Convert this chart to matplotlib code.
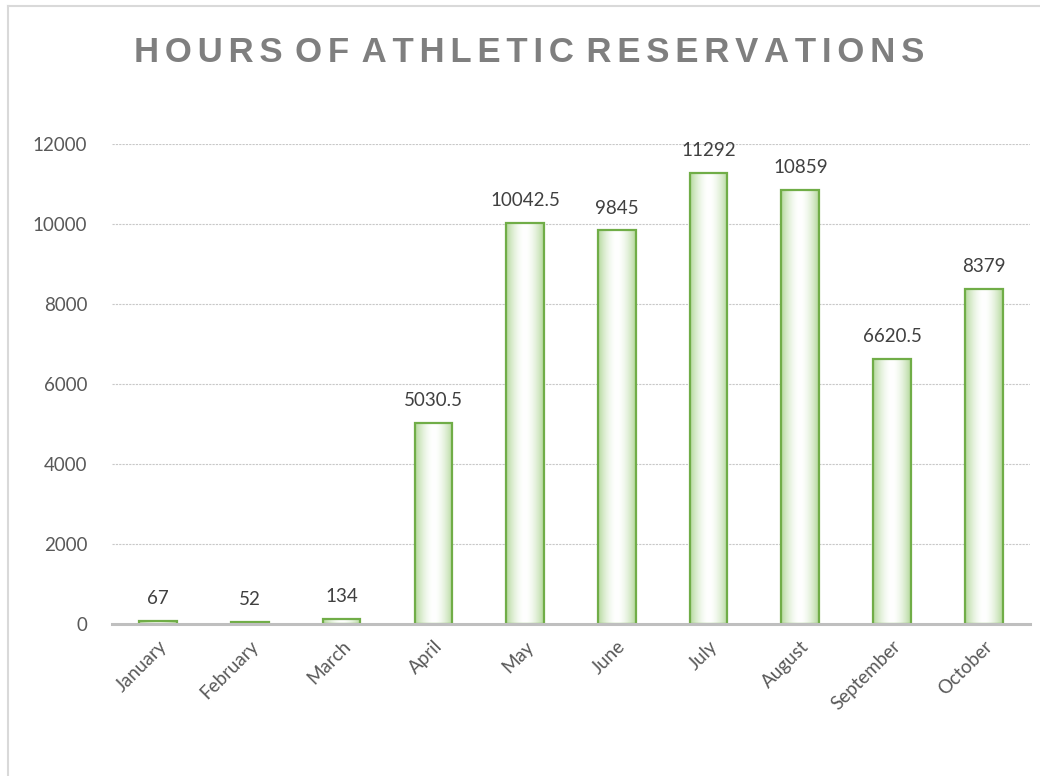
import numpy as np
import matplotlib.pyplot as plt
from matplotlib.lines import Line2D
from matplotlib.colors import LinearSegmentedColormap

# datos del grafico
meses = ["January", "February", "March", "April", "May", "June",
         "July", "August", "September", "October"]
horas = [67, 52, 134, 5030.5, 10042.5, 9845, 11292, 10859, 6620.5, 8379]
etiquetas = ["67", "52", "134", "5030.5", "10042.5", "9845",
             "11292", "10859", "6620.5", "8379"]

plt.rcParams['font.family'] = ['Lato', 'DejaVu Sans']

fig = plt.figure(figsize=(10.4, 7.76), dpi=100)
ax = fig.add_axes([0.108, 0.196, 0.882, 0.618])

x = np.arange(len(meses))
barras = ax.bar(x, horas, width=0.41, color="none", edgecolor="#70ad47",
                linewidth=1.6, zorder=3)

# relleno degradado (verde en bordes, blanco al centro)
grad = np.abs(np.linspace(-1, 1, 64)) ** 1.8
grad = np.vstack([grad, grad])
cmap = LinearSegmentedColormap.from_list("g", ["#ffffff", "#b4d89c"])
for b in barras:
    x0, y0 = b.get_x(), b.get_y()
    w, h = b.get_width(), b.get_height()
    im = ax.imshow(grad, cmap=cmap, aspect="auto", extent=[x0, x0 + w, y0, y0 + h],
                   zorder=2, interpolation="bilinear")
    im.set_clip_path(b)

for xi, v, t in zip(x, horas, etiquetas):
    ax.annotate(t, (xi, v), xytext=(0, 10), textcoords="offset points",
                ha="center", va="bottom", fontsize=13.5, color="#404040")

ax.set_xlim(-0.5, len(meses) - 0.5)
ax.set_ylim(0, 12000)
ax.set_yticks(range(0, 12001, 2000))
ax.yaxis.grid(True, color="#c8c8c8", linestyle=(0, (2, 1)), linewidth=0.8, zorder=0)
ax.set_axisbelow(True)

for s in ["top", "right", "left"]:
    ax.spines[s].set_visible(False)
ax.spines["bottom"].set_color("#bfbfbf")
ax.spines["bottom"].set_linewidth(2.2)
ax.spines["bottom"].set_zorder(4)

ax.tick_params(axis="both", length=0, labelsize=13.5, labelcolor="#595959")
ax.tick_params(axis="y", pad=18)
ax.set_xticks(x)
ax.set_xticklabels(meses, rotation=45, ha="right", rotation_mode="anchor")
ax.tick_params(axis="x", pad=10)

# titulo con espaciado entre letras
palabras = "HOURS OF ATHLETIC RESERVATIONS".split(" ")
titulo = " \u200a".join("\u200a\u200a".join(p) for p in palabras)
fig.text(0.509, 0.932, titulo, ha="center", va="center", fontsize=25,
         fontweight="bold", color="#7f7f7f", family=["Liberation Sans", "DejaVu Sans"])

# borde del grafico
fig.add_artist(Line2D([0.008, 0.008], [0.0, 0.992], color="#d9d9d9", lw=1.5))
fig.add_artist(Line2D([0.008, 1.0], [0.992, 0.992], color="#d9d9d9", lw=1.5))

fig.savefig("out.png", dpi=100)
